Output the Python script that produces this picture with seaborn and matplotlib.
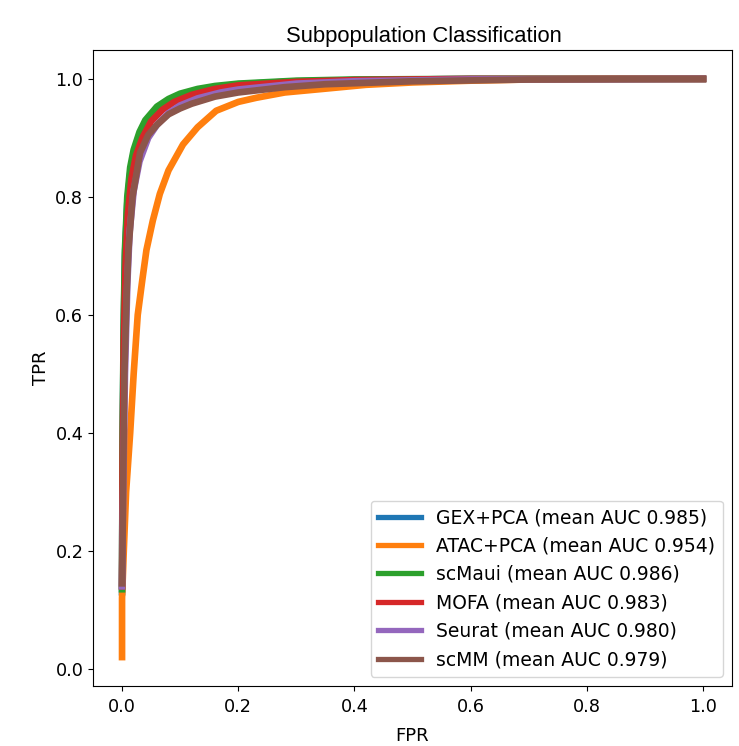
import pandas as pd
import matplotlib
matplotlib.use("Agg")
import matplotlib.pyplot as plt
import seaborn as sns

# ROC points (FPR, TPR) per method
gex_fpr = [0, 0.001, 0.003, 0.005, 0.009, 0.014, 0.02, 0.03, 0.04, 0.06, 0.08, 0.1, 0.13, 0.16, 0.2, 0.3, 0.4, 0.6, 1.0]
gex_tpr = [0.13, 0.38, 0.58, 0.70, 0.79, 0.84, 0.875, 0.905, 0.925, 0.95, 0.963, 0.972, 0.981, 0.986, 0.991, 0.996, 0.998, 1.0, 1.0]

atac_fpr = [0, 0, 0.003, 0.007, 0.014, 0.02, 0.027, 0.035, 0.042, 0.053, 0.065, 0.08, 0.105, 0.13, 0.162, 0.2, 0.231, 0.28, 0.345, 0.42, 0.5, 0.6, 0.7, 0.85, 1.0]
atac_tpr = [0.02, 0.12, 0.2, 0.3, 0.4, 0.5, 0.6, 0.66, 0.71, 0.76, 0.805, 0.845, 0.889, 0.918, 0.946, 0.961, 0.968, 0.977, 0.983, 0.99, 0.994, 0.997, 0.999, 1.0, 1.0]

scmaui_fpr = [0, 0.001, 0.003, 0.005, 0.009, 0.014, 0.02, 0.03, 0.04, 0.06, 0.08, 0.1, 0.13, 0.16, 0.2, 0.3, 0.4, 0.6, 1.0]
scmaui_tpr = [0.135, 0.4, 0.6, 0.71, 0.8, 0.85, 0.88, 0.91, 0.93, 0.953, 0.966, 0.975, 0.983, 0.988, 0.992, 0.997, 0.999, 1.0, 1.0]

mofa_fpr = [0, 0.001, 0.003, 0.006, 0.01, 0.016, 0.024, 0.035, 0.05, 0.07, 0.09, 0.12, 0.16, 0.2, 0.3, 0.4, 0.6, 1.0]
mofa_tpr = [0.14, 0.35, 0.55, 0.68, 0.77, 0.83, 0.87, 0.9, 0.928, 0.948, 0.961, 0.973, 0.983, 0.989, 0.995, 0.998, 1.0, 1.0]

seurat_fpr = [0, 0.002, 0.005, 0.009, 0.013, 0.02, 0.03, 0.045, 0.06, 0.08, 0.1, 0.13, 0.17, 0.2, 0.3, 0.4, 0.6, 1.0]
seurat_tpr = [0.14, 0.3, 0.5, 0.65, 0.74, 0.81, 0.86, 0.9, 0.922, 0.942, 0.955, 0.967, 0.977, 0.982, 0.992, 0.996, 0.999, 1.0]

scmm_fpr = [0, 0.002, 0.004, 0.008, 0.011, 0.018, 0.031, 0.045, 0.06, 0.08, 0.1, 0.12, 0.16, 0.2, 0.28, 0.35, 0.5, 0.7, 1.0]
scmm_tpr = [0.145, 0.32, 0.5, 0.64, 0.71, 0.8, 0.875, 0.905, 0.922, 0.94, 0.95, 0.958, 0.97, 0.977, 0.986, 0.991, 0.996, 0.999, 1.0]

methods = ["GEX+PCA", "ATAC+PCA", "scMaui", "MOFA", "Seurat", "scMM"]
mean_auc = [0.985, 0.954, 0.986, 0.983, 0.980, 0.979]
curves = [(gex_fpr, gex_tpr), (atac_fpr, atac_tpr), (scmaui_fpr, scmaui_tpr),
          (mofa_fpr, mofa_tpr), (seurat_fpr, seurat_tpr), (scmm_fpr, scmm_tpr)]

rows = []
for name, auc, (f, t) in zip(methods, mean_auc, curves):
    label = f"{name} (mean AUC {auc:.3f})"
    for i in range(len(f)):
        rows.append({"method": label, "FPR": f[i], "TPR": t[i]})
df = pd.DataFrame(rows)

fig = plt.figure(figsize=(7.39, 7.46), dpi=100)
ax = fig.add_axes([93 / 739, 1 - 686 / 746, (732 - 93) / 739, (686 - 50) / 746])

sns.lineplot(data=df, x="FPR", y="TPR", hue="method", palette="tab10",
             estimator=None, sort=False, linewidth=4.8, ax=ax)

ax.set_title("Subpopulation Classification", fontsize=15.8, family="Liberation Sans", x=0.518)
ax.set_xlabel("FPR", fontsize=13, labelpad=8)
ax.set_ylabel("TPR", fontsize=13)
ax.tick_params(labelsize=12.7)
ax.tick_params(axis="x", pad=5)
leg = ax.legend(loc="lower right", fontsize=13.5, handlelength=2.3)
for h in leg.get_lines():
    h.set_linewidth(3.8)

fig.savefig("out.png", dpi=100)
